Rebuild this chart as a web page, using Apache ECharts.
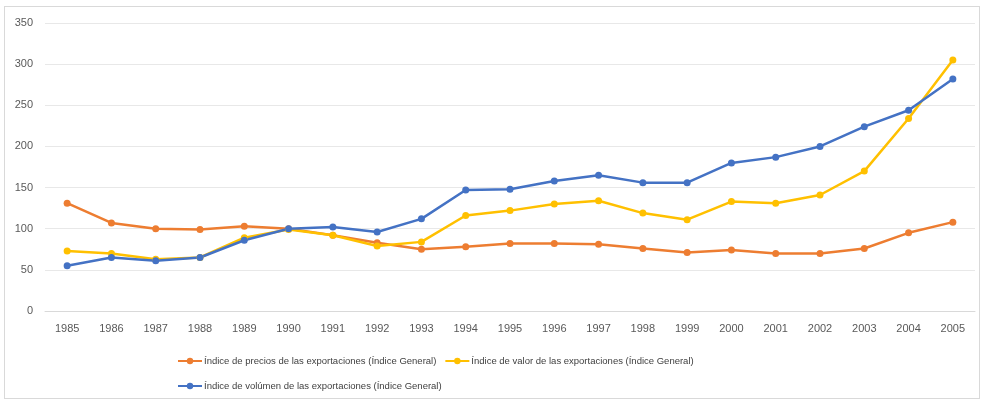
<!DOCTYPE html>
<html lang="es">
<head>
<meta charset="UTF-8">
<title>Índices de exportaciones</title>
<script src="https://cdn.jsdelivr.net/npm/echarts@6/dist/echarts.min.js"></script>
<style>
  body { margin: 0; background: #fff; }
  #main { width: 985px; height: 402px; }
  #frame { position: absolute; left: 4px; top: 6px; width: 974px; height: 391px; border: 1px solid #d9d9d9; pointer-events: none; }
</style>
</head>
<body>
<div id="main"></div>
<div id="frame"></div>
<script>
// años
const years = ['1985','1986','1987','1988','1989','1990','1991','1992','1993','1994','1995',
  '1996','1997','1998','1999','2000','2001','2002','2003','2004','2005'];
// índice de precios
const precios = [131, 107, 100, 99, 103, 100, 92, 83, 75, 78, 82, 82, 81, 76, 71, 74, 70, 70, 76, 95, 108];
// índice de valor
const valor = [73, 70, 63, 65, 89, 99, 92, 79, 84, 116, 122, 130, 134, 119, 111, 133, 131, 141, 170, 234, 305];
// índice de volumen
const volumen = [55, 65, 61, 65, 86, 100, 102, 96, 112, 147, 148, 158, 165, 156, 156, 180, 187, 200, 224, 244, 282];

const seriesNames = [
  'Índice de precios de las exportaciones (Índice General)',
  'Índice de valor de las exportaciones (Índice General)',
  'Índice de volúmen de las exportaciones (Índice General)'
];
const colors = ['#ED7D31', '#FFC000', '#4472C4'];
const font = '"Liberation Sans", sans-serif';

const chart = echarts.init(document.getElementById('main'));

function line(name, data, color) {
  return {
    name: name,
    type: 'line',
    data: data,
    symbol: 'circle',
    symbolSize: 7,
    color: color,
    lineStyle: { width: 2.5, color: color },
    itemStyle: { color: color }
  };
}

// dos leyendas para reproducir las dos filas
function legend(top, names) {
  return {
    left: 172,
    top: top,
    itemWidth: 24,
    itemHeight: 8,
    itemGap: 8,
    data: names,
    textStyle: { fontSize: 9.5, color: '#404040', fontFamily: font, padding: [0, 0, 0, -3] }
  };
}

chart.setOption({
  animation: false,
  backgroundColor: '#fff',
  textStyle: { fontFamily: font },
  grid: { left: 45, right: 10, top: 23, bottom: 91 },
  legend: [
    legend(351, [seriesNames[0], seriesNames[1]]),
    legend(376, [seriesNames[2]])
  ],
  xAxis: {
    type: 'category',
    data: years,
    axisLine: { show: true, lineStyle: { color: '#d9d9d9' } },
    axisTick: { show: false },
    axisLabel: { color: '#595959', fontSize: 11, margin: 12 }
  },
  yAxis: {
    type: 'value',
    min: 0,
    max: 350,
    interval: 50,
    axisLine: { show: false },
    axisTick: { show: false },
    axisLabel: { color: '#595959', fontSize: 11, margin: 12 },
    splitLine: { lineStyle: { color: '#e8e8e8' } }
  },
  series: [
    line(seriesNames[0], precios, colors[0]),
    line(seriesNames[1], valor, colors[1]),
    line(seriesNames[2], volumen, colors[2])
  ]
});
</script>
</body>
</html>
